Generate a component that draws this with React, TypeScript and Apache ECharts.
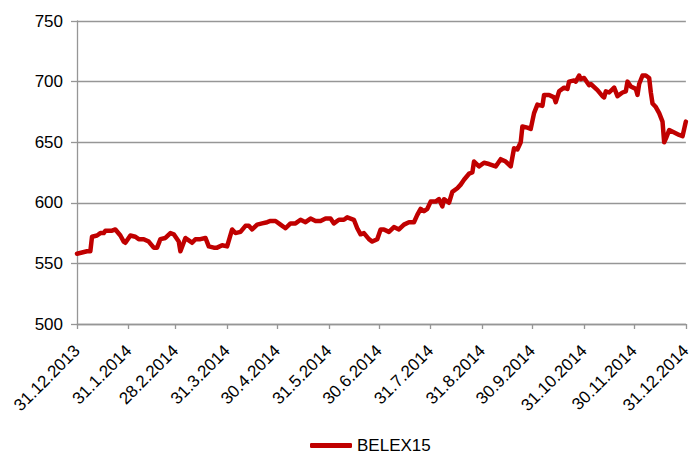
import React, { useEffect, useRef } from "react";
import * as echarts from "echarts";

const seriesName = "BELEX15";

const dates: string[] = [
  "2013-12-31","2014-01-06","2014-01-08","2014-01-09","2014-01-12","2014-01-14","2014-01-16","2014-01-17","2014-01-21","2014-01-23",
  "2014-01-26","2014-01-28","2014-01-29","2014-02-01","2014-02-04","2014-02-06","2014-02-09","2014-02-12","2014-02-15","2014-02-17",
  "2014-02-19","2014-02-22","2014-02-25","2014-02-27","2014-03-02","2014-03-03","2014-03-06","2014-03-08","2014-03-10","2014-03-12",
  "2014-03-15","2014-03-18","2014-03-20","2014-03-23","2014-03-25","2014-03-28","2014-03-31","2014-04-03","2014-04-05","2014-04-08",
  "2014-04-11","2014-04-13","2014-04-15","2014-04-18","2014-04-21","2014-04-24","2014-04-26","2014-04-29","2014-05-02","2014-05-05",
  "2014-05-08","2014-05-11","2014-05-14","2014-05-17","2014-05-20","2014-05-23","2014-05-26","2014-05-29","2014-06-01","2014-06-03",
  "2014-06-06","2014-06-09","2014-06-11","2014-06-15","2014-06-17","2014-06-19","2014-06-21","2014-06-24","2014-06-26","2014-06-29",
  "2014-07-01","2014-07-03","2014-07-06","2014-07-09","2014-07-12","2014-07-15","2014-07-18","2014-07-21","2014-07-23","2014-07-25",
  "2014-07-27","2014-07-29","2014-07-31","2014-08-03","2014-08-05","2014-08-07","2014-08-08","2014-08-11","2014-08-13","2014-08-16",
  "2014-08-18","2014-08-20","2014-08-23","2014-08-25","2014-08-26","2014-08-29","2014-09-01","2014-09-04","2014-09-08","2014-09-11",
  "2014-09-14","2014-09-17","2014-09-19","2014-09-21","2014-09-23","2014-09-24","2014-09-27","2014-09-29","2014-10-01","2014-10-03",
  "2014-10-06","2014-10-07","2014-10-10","2014-10-13","2014-10-14","2014-10-16","2014-10-19","2014-10-21","2014-10-22","2014-10-25",
  "2014-10-26","2014-10-28","2014-10-29","2014-10-31","2014-11-03","2014-11-04","2014-11-08","2014-11-11","2014-11-12","2014-11-13",
  "2014-11-15","2014-11-18","2014-11-20","2014-11-23","2014-11-25","2014-11-26","2014-11-28","2014-12-01","2014-12-02","2014-12-03",
  "2014-12-05","2014-12-07","2014-12-09","2014-12-10","2014-12-11","2014-12-13","2014-12-15","2014-12-17","2014-12-18","2014-12-19",
  "2014-12-21","2014-12-24","2014-12-27","2014-12-29","2014-12-31"
];

const values: number[] = [
  558,560,560,572,573,575,575,577,577,578,
  573,568,567,573,572,570,570,568,563,563,
  570,571,575,574,568,560,571,569,567,570,
  570,571,564,563,563,565,564,578,575,576,
  581,581,578,582,583,584,585,585,582,579,
  583,583,586,584,587,585,585,587,587,583,
  586,586,588,586,579,574,575,570,568,570,
  578,578,576,580,578,582,584,584,590,595,
  593,595,601,601,603,597,603,600,609,612,
  615,619,624,625,634,630,633,632,630,636,
  634,630,645,644,650,663,662,661,674,681,
  680,689,689,687,683,692,695,694,700,701,
  700,705,702,703,697,698,693,688,687,692,
  691,695,688,691,692,700,696,694,689,698,
  705,705,703,691,682,679,674,667,650,653,
  660,658,656,655,667
];

const tickDates: string[] = [
  "2013-12-31","2014-01-31","2014-02-28","2014-03-31","2014-04-30","2014-05-31","2014-06-30",
  "2014-07-31","2014-08-31","2014-09-30","2014-10-31","2014-11-30","2014-12-31"
];

const yMin = 500;
const yMax = 750;
const yStep = 50;

function toTs(s: string): number {
  const [y, m, d] = s.split("-").map(Number);
  return Date.UTC(y, m - 1, d);
}

function fmt(v: number): string {
  const d = new Date(v);
  return `${d.getUTCDate()}.${d.getUTCMonth() + 1}.${d.getUTCFullYear()}`;
}

export default function App() {
  const ref = useRef<HTMLDivElement>(null);
  useEffect(() => {
    document.body.style.margin = "0";
    if (!ref.current) return;
    const chart = echarts.init(ref.current, undefined, { renderer: "svg" });
    const ticks = tickDates.map(toTs);
    const font = "Liberation Sans";
    chart.setOption({
      animation: false,
      backgroundColor: "#ffffff",
      grid: { left: 77, right: 5, top: 21, bottom: 131, containLabel: false },
      legend: {
        data: [seriesName],
        left: 305,
        top: 432,
        icon: "roundRect",
        itemWidth: 42,
        itemHeight: 5,
        textStyle: { fontSize: 17, color: "#000", fontFamily: font },
      },
      xAxis: {
        type: "value",
        min: ticks[0],
        max: ticks[ticks.length - 1],
        scale: true,
        splitLine: { show: false },
        axisLine: { show: true, lineStyle: { color: "#969696", width: 1.3 } },
        axisTick: { show: true, length: 5, lineStyle: { color: "#969696", width: 1.3 }, customValues: ticks },
        axisLabel: {
          customValues: ticks,
          rotate: 45,
          margin: 24,
          fontSize: 17,
          color: "#000",
          fontFamily: font,
          formatter: (v: number) => fmt(v),
          hideOverlap: false,
          showMinLabel: true,
          showMaxLabel: true,
        },
      },
      yAxis: {
        type: "value",
        min: yMin,
        max: yMax,
        interval: yStep,
        axisLine: { show: true, lineStyle: { color: "#969696", width: 1.3 } },
        axisTick: { show: true, length: 6, lineStyle: { color: "#969696", width: 1.3 } },
        splitLine: { show: true, lineStyle: { color: "#969696", width: 1.3 } },
        axisLabel: { fontSize: 17, color: "#000", margin: 14, fontFamily: font },
      },
      series: [
        {
          name: seriesName,
          type: "line",
          data: dates.map((d, i) => [toTs(d), values[i]]),
          showSymbol: false,
          symbol: "none",
          smooth: false,
          itemStyle: { color: "#C00000" },
          lineStyle: { color: "#C00000", width: 4.5, join: "round", cap: "round" },
        },
      ],
    });
    return () => chart.dispose();
  }, []);
  return <div ref={ref} style={{ width: 694, height: 455 }} />;
}
